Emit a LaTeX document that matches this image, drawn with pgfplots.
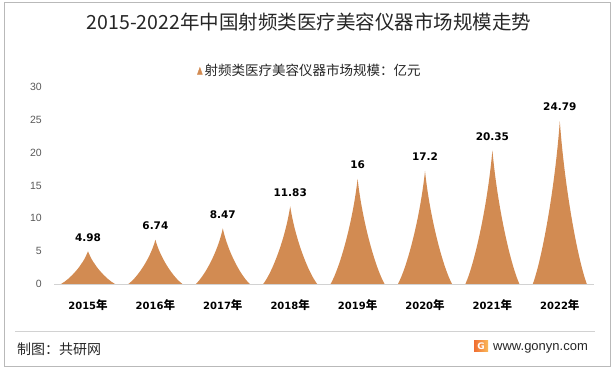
\documentclass[border=0pt]{standalone}
\usepackage{pgfplots}
\pgfplotsset{compat=1.18}
\usepackage{fontspec}
\setmainfont{Liberation Sans}
\newfontfamily\cjk{Noto Sans CJK SC}
\newfontfamily\dvs{DejaVu Sans}
\definecolor{spikeC}{RGB}{210,139,82}
\definecolor{tickC}{RGB}{89,89,89}
\definecolor{txtC}{RGB}{38,38,38}
\newcommand\yu{6.57}
\pgfdeclareplotmark{spike}{%
  \pgfmathsetlengthmacro\spH{\rawy*\yu pt}%
  \pgfmathsetlengthmacro\spA{-0.85*\rawy*\yu pt}%
  \pgfmathsetlengthmacro\spB{-0.42*\rawy*\yu pt}%
  \pgfsetfillcolor{spikeC}%
  \pgfpathmoveto{\pgfpoint{-27pt}{-\spH}}%
  \pgfpathcurveto{\pgfpoint{-18pt}{\spA}}{\pgfpoint{-5pt}{\spB}}{\pgfpoint{0pt}{0pt}}%
  \pgfpathcurveto{\pgfpoint{5pt}{\spB}}{\pgfpoint{18pt}{\spA}}{\pgfpoint{27pt}{-\spH}}%
  \pgfpathclose
  \pgfusepathqfill
}
\begin{document}
\begin{tikzpicture}[x=1pt,y=1pt]
\path[use as bounding box] (0,0) rectangle (615,371);
\draw[gray!55, line width=0.8pt] (4,5) rectangle (610,369);
\node[font=\cjk\fontsize{19.5}{22}\selectfont, text=txtC] at (309,349) {2015-2022年中国射频类医疗美容仪器市场规模走势};
\begin{axis}[
  at={(54.3pt,87pt)}, anchor=south west,
  x=67.4pt, y=6.57pt,
  xmin=-0.5, xmax=7.5, ymin=0, ymax=30,
  clip=false,
  axis lines*=left,
  y axis line style={draw=none},
  x axis line style={draw=gray!35, line width=0.8pt},
  major tick length=0pt,
  xtick={0,...,7},
  xticklabels={
    {\dvs\bfseries 2015{\cjk\bfseries\fontsize{11.5}{12}\selectfont 年}},
    {\dvs\bfseries 2016{\cjk\bfseries\fontsize{11.5}{12}\selectfont 年}},
    {\dvs\bfseries 2017{\cjk\bfseries\fontsize{11.5}{12}\selectfont 年}},
    {\dvs\bfseries 2018{\cjk\bfseries\fontsize{11.5}{12}\selectfont 年}},
    {\dvs\bfseries 2019{\cjk\bfseries\fontsize{11.5}{12}\selectfont 年}},
    {\dvs\bfseries 2020{\cjk\bfseries\fontsize{11.5}{12}\selectfont 年}},
    {\dvs\bfseries 2021{\cjk\bfseries\fontsize{11.5}{12}\selectfont 年}},
    {\dvs\bfseries 2022{\cjk\bfseries\fontsize{11.5}{12}\selectfont 年}}},
  xticklabel style={anchor=center, yshift=-21pt, font=\fontsize{10}{12}\selectfont, text=black},
  ytick={0,5,...,30},
  yticklabel style={anchor=east, xshift=-9pt, font=\fontsize{10.5}{12}\selectfont, text=tickC},
  /pgf/number format/assume math mode=true,
  legend style={at={(0.474,1.081)}, anchor=center, draw=none, fill=none,
    font=\cjk\fontsize{13.5}{15}\selectfont, text=txtC, inner sep=0pt},
  legend image code/.code={\fill[spikeC] (0pt,-3.5pt) -- (2.5pt,3.5pt) -- (5pt,-3.5pt) -- cycle;},
]
\addplot[scatter, only marks, mark=spike,
  scatter/use mapped color={draw=none, fill=spikeC},
  visualization depends on={y \as \rawy},
  nodes near coords,
  nodes near coords style={anchor=center, yshift=14pt, text=black,
    font=\dvs\bfseries\fontsize{10.5}{12}\selectfont},
] coordinates {
  (0,4.98) (1,6.74) (2,8.47) (3,11.83) (4,16) (5,17.2) (6,20.35) (7,24.79)
};
\addlegendentry{射频类医疗美容仪器市场规模：亿元}
\end{axis}
\draw[gray!35, line width=0.8pt] (15,40) -- (595,40);
\node[anchor=west, inner sep=0pt, font=\cjk\fontsize{14}{16}\selectfont, text=txtC] at (17,22) {制图：共研网};
\shade[left color={rgb,255:red,240;green,110;blue,50}, right color={rgb,255:red,250;green,185;blue,90}] (474,19) rectangle (488,30);
\node[text=white, font=\dvs\bfseries\fontsize{9}{10}\selectfont, inner sep=0pt] at (481,24.5) {G};
\node[anchor=west, inner sep=0pt, font=\fontsize{13}{15}\selectfont, text=txtC] at (493,23) {www.gonyn.com};
\end{tikzpicture}
\end{document}
